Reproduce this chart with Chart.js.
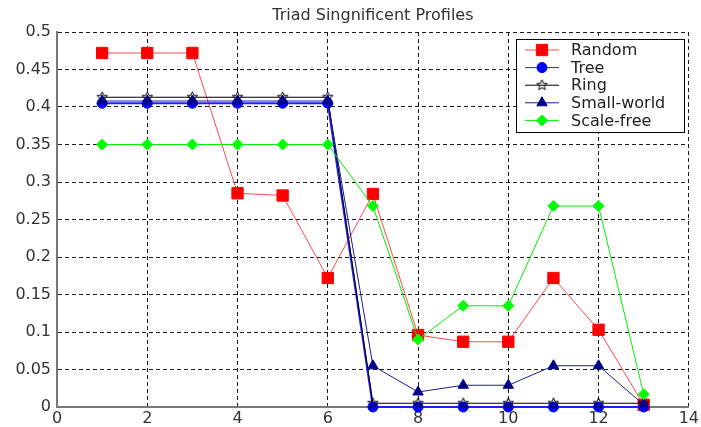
<!DOCTYPE html>
<html>
<head>
<meta charset="utf-8">
<script src="https://cdn.jsdelivr.net/npm/chart.js@4/dist/chart.umd.min.js"></script>
<style>
  html, body { margin: 0; padding: 0; background: #fff; }
  #wrap { width: 701px; height: 427px; }
</style>
</head>
<body>
<div id="wrap"><canvas id="grafico" width="701" height="427"></canvas></div>
<script>
// valores
var perfis    = [1, 2, 3, 4, 5, 6, 7, 8, 9, 10, 11, 12, 13];
var random    = [0.472, 0.472, 0.472, 0.285, 0.282, 0.172, 0.284, 0.096, 0.087, 0.087, 0.172, 0.103, 0.003];
var tree      = [0.405, 0.405, 0.405, 0.405, 0.405, 0.405, 0, 0, 0, 0, 0, 0, 0];
var ring      = [0.413, 0.413, 0.413, 0.413, 0.413, 0.413, 0.005, 0.005, 0.005, 0.005, 0.005, 0.005, 0.005];
var smallW    = [0.408, 0.408, 0.408, 0.408, 0.408, 0.408, 0.055, 0.02, 0.029, 0.029, 0.055, 0.055, 0.003];
var scaleFree = [0.35, 0.35, 0.35, 0.35, 0.35, 0.35, 0.268, 0.09, 0.135, 0.135, 0.268, 0.268, 0.017];
var nomes     = ['Random', 'Tree', 'Ring', 'Small-world', 'Scale-free'];
var xTicks    = [0, 2, 4, 6, 8, 10, 12, 14];
var yTicks    = [0, 0.05, 0.1, 0.15, 0.2, 0.25, 0.3, 0.35, 0.4, 0.45, 0.5];
var titulo    = 'Triad Singnificent Profiles';

var FONTE = '"DejaVu Sans", Arial, sans-serif';

// pentagrama vazado (marcador do Ring)
function estrela() {
  var c = document.createElement('canvas');
  c.width = 13; c.height = 13;
  var g = c.getContext('2d');
  g.strokeStyle = '#000';
  g.lineWidth = 1;
  g.beginPath();
  for (var i = 0; i < 10; i++) {
    var r = (i % 2 === 0) ? 5.5 : 2.4;
    var a = -Math.PI / 2 + i * Math.PI / 5;
    var px = 6.5 + r * Math.cos(a), py = 6.5 + r * Math.sin(a);
    if (i === 0) g.moveTo(px, py); else g.lineTo(px, py);
  }
  g.closePath();
  g.stroke();
  return c;
}
var marcaRing = estrela();

function pontos(vals) {
  return vals.map(function (v, i) { return { x: perfis[i], y: v }; });
}

var series = [
  { nome: nomes[0], dados: random,    linha: '#ff4a4a', cor: '#ff0000', estilo: 'rect',     raio: 8,   larg: 1, ordem: 5 },
  { nome: nomes[1], dados: tree,      linha: '#2020ff', cor: '#0000ff', estilo: 'circle',   raio: 5,   larg: 2, ordem: 4 },
  { nome: nomes[2], dados: ring,      linha: '#000000', cor: '#000000', estilo: marcaRing,  raio: 6,   larg: 1, ordem: 3 },
  { nome: nomes[3], dados: smallW,    linha: '#1c1c90', cor: '#00008b', estilo: 'triangle', raio: 6,   larg: 1, ordem: 2 },
  { nome: nomes[4], dados: scaleFree, linha: '#00ee00', cor: '#00ff00', estilo: 'rectRot',  raio: 5.5, larg: 1, ordem: 1 }
];

// título e legenda no estilo MATLAB
var extras = {
  id: 'extras',
  afterDraw: function (chart) {
    var ctx = chart.ctx, area = chart.chartArea;
    ctx.save();
    ctx.fillStyle = '#333';
    ctx.font = '16px ' + FONTE;
    ctx.textAlign = 'center';
    ctx.textBaseline = 'middle';
    ctx.fillText(titulo, (area.left + area.right) / 2, 16);

    var bx = 516, by = 39, bw = 168, bh = 93;
    ctx.fillStyle = '#fff';
    ctx.fillRect(bx, by, bw, bh);
    ctx.strokeStyle = '#000';
    ctx.lineWidth = 1;
    ctx.strokeRect(bx + 0.5, by + 0.5, bw, bh);

    ctx.textAlign = 'left';
    series.forEach(function (s, i) {
      var y = 50 + i * 17.6;
      ctx.strokeStyle = s.linha;
      ctx.lineWidth = 1;
      ctx.beginPath();
      ctx.moveTo(525, y);
      ctx.lineTo(559, y);
      ctx.stroke();
      ctx.fillStyle = s.cor;
      ctx.strokeStyle = s.cor;
      Chart.helpers.drawPoint(ctx, { pointStyle: s.estilo, radius: s.raio, rotation: 0, borderWidth: 1 }, 542, y);
      ctx.fillStyle = '#222';
      ctx.fillText(s.nome, 571, y + 1);
    });
    ctx.restore();
  }
};

new Chart(document.getElementById('grafico').getContext('2d'), {
  type: 'line',
  data: {
    datasets: series.map(function (s) {
      return {
        label: s.nome,
        data: pontos(s.dados),
        borderColor: s.linha,
        borderWidth: s.larg,
        backgroundColor: s.cor,
        pointBackgroundColor: s.cor,
        pointBorderColor: s.cor,
        pointBorderWidth: 1,
        pointStyle: s.estilo,
        pointRadius: s.raio,
        tension: 0,
        clip: false,
        order: s.ordem
      };
    })
  },
  options: {
    responsive: false,
    animation: false,
    layout: { padding: { top: 32, right: 8, bottom: 0, left: 0 } },
    plugins: { legend: { display: false }, title: { display: false }, tooltip: { enabled: false } },
    scales: {
      x: {
        type: 'linear', min: 0, max: 14,
        afterFit: function (s) { s.height = 20; },
        afterBuildTicks: function (s) { s.ticks = xTicks.map(function (v) { return { value: v }; }); },
        grid: { color: '#1a1a1a', lineWidth: 1, drawTicks: false },
        border: { display: true, color: '#777', width: 2, dash: [4, 3] },
        ticks: { color: '#333', font: { family: FONTE, size: 16 }, padding: 2, maxRotation: 0,
          callback: function (v) { return String(v); } }
      },
      y: {
        type: 'linear', min: 0, max: 0.5,
        afterFit: function (s) { s.width = 57; },
        afterBuildTicks: function (s) { s.ticks = yTicks.map(function (v) { return { value: v }; }); },
        grid: { color: '#1a1a1a', lineWidth: 1, drawTicks: false },
        border: { display: true, color: '#777', width: 2, dash: [4, 3] },
        ticks: { color: '#333', font: { family: FONTE, size: 16 }, padding: 6,
          callback: function (v) { return String(Math.round(v * 100) / 100); } }
      }
    }
  },
  plugins: [extras]
});
</script>
</body>
</html>
